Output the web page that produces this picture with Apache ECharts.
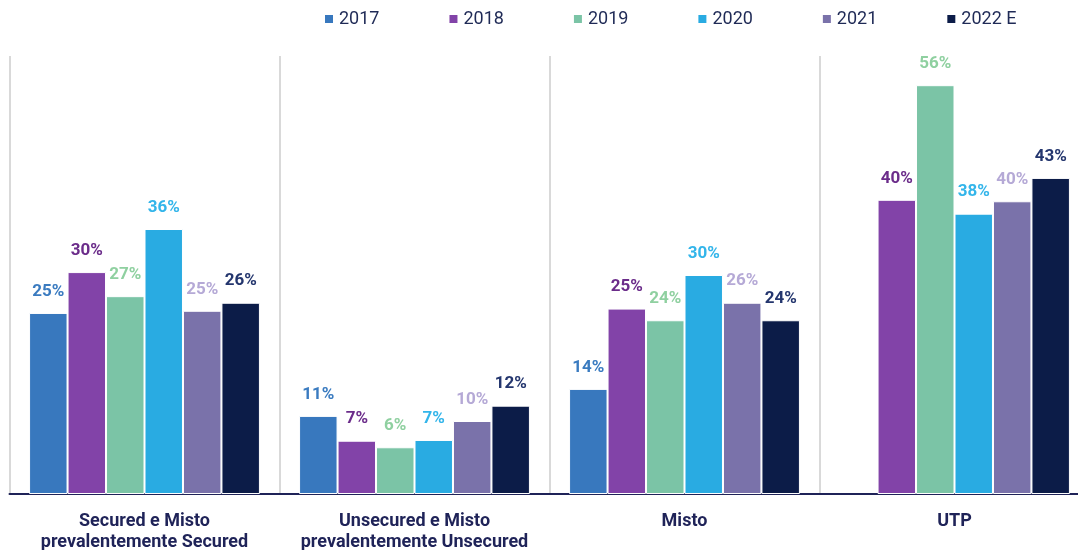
<!DOCTYPE html>
<html>
<head>
<meta charset="utf-8">
<script src="https://cdn.jsdelivr.net/npm/echarts@6/dist/echarts.min.js"></script>
<style>html,body{margin:0;padding:0;background:#fff}#c{width:1078px;height:550px}</style>
</head>
<body>
<div id="c"></div>
<script>
const categories = ['Secured e Misto\nprevalentemente Secured', 'Unsecured e Misto\nprevalentemente Unsecured', 'Misto', 'UTP'];
const seriesNames = ['2017', '2018', '2019', '2020', '2021', '2022 E'];
const v2017 = [24.8, 10.7, 14.4, null];
const v2018 = [30.4, 7.3, 25.4, 40.3];
const v2019 = [27.1, 6.4, 23.8, 56.0];
const v2020 = [36.3, 7.4, 30.0, 38.4];
const v2021 = [25.1, 10.0, 26.2, 40.1];
const v2022 = [26.2, 12.1, 23.8, 43.3];
const seriesValues = [v2017, v2018, v2019, v2020, v2021, v2022];
const barColors = ['#3878be', '#8243a8', '#7bc4a6', '#29abe2', '#7a72aa', '#0c1c48'];
const labelColors = ['#3a7bc0', '#6b2c8a', '#8fd0a0', '#33b5ea', '#b5a9d6', '#24366e'];

const chart = echarts.init(document.getElementById('c'));
chart.setOption({
  animation: false,
  textStyle: { fontFamily: 'Roboto' },
  legend: {
    top: 10, left: 323, padding: 0,
    itemWidth: 10, itemHeight: 10, itemGap: 68,
    icon: 'rect',
    textStyle: { fontSize: 18, color: '#1f2a56', fontFamily: 'Roboto' },
    data: seriesNames
  },
  grid: { left: 9.5, right: -11.5, top: 56, bottom: 56, outerBoundsMode: 'none', containLabel: false },
  xAxis: {
    type: 'category',
    data: categories,
    axisLine: { lineStyle: { color: '#1f2358', width: 2 } },
    axisTick: { show: false },
    splitLine: { show: true, interval: 0, lineStyle: { color: '#d9d9d9', width: 2 } },
    axisLabel: { interval: 0, margin: 17, fontSize: 18, fontWeight: 'bold', color: '#1f2358', lineHeight: 21 }
  },
  yAxis: { type: 'value', min: 0, max: 60, show: false },
  series: seriesNames.map((n, i) => ({
    name: n,
    type: 'bar',
    data: seriesValues[i],
    barGap: '0%',
    barCategoryGap: '14.5%',
    itemStyle: { color: barColors[i], borderColor: '#ffffff', borderWidth: 1 },
    label: {
      show: true, position: 'top', distance: 13,
      formatter: p => Math.round(p.value) + '%',
      fontSize: 17, fontWeight: 'bold', color: labelColors[i], fontFamily: 'Roboto'
    }
  }))
});
</script>
</body>
</html>
